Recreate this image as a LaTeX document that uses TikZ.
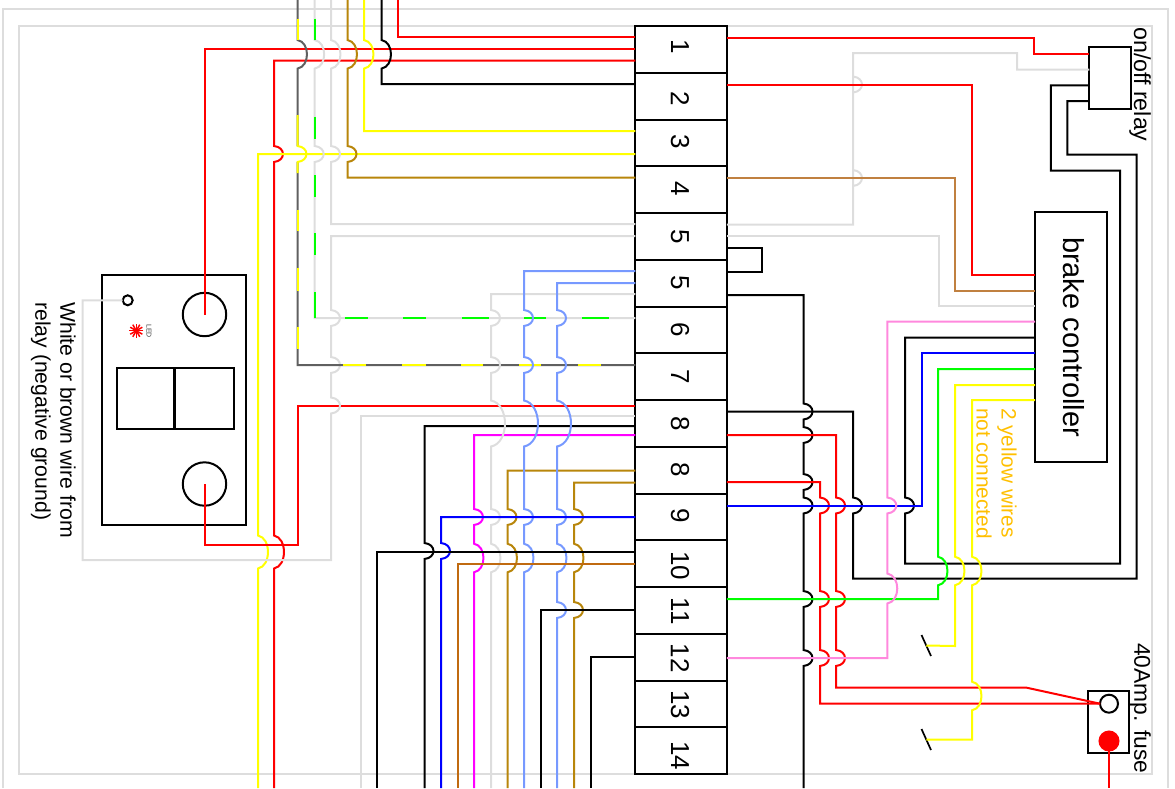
\documentclass[tikz,border=0pt]{standalone}
\usepackage{fontspec}
\setmainfont{Liberation Sans}
\usetikzlibrary{calc,positioning}
\definecolor{wred}{HTML}{FF0000}
\definecolor{wgreen}{HTML}{00FF00}
\definecolor{wblue}{HTML}{0000FF}
\definecolor{wyellow}{HTML}{FFFF00}
\definecolor{wmagenta}{HTML}{FF00FF}
\definecolor{wgrey}{HTML}{DDDDDD}
\definecolor{wdark}{HTML}{606060}
\definecolor{wgold}{HTML}{B8860B}
\definecolor{wlblue}{HTML}{7799FF}
\definecolor{wbrown}{HTML}{C06A10}
\definecolor{wtan}{HTML}{C08040}
\definecolor{wpink}{HTML}{FF88DD}
\definecolor{worange}{HTML}{FFBF00}
\tikzset{
  wire/.style={draw=#1,line width=2pt},
  box/.style={draw=black,line width=2pt,inner sep=0pt,outer sep=0pt},
  rowbox/.style={box,minimum width=91.5pt,minimum height=46.75pt},
  hole/.style={circle,box,minimum size=#1},
  sidelab/.style={rotate=-90,inner sep=0pt,font=\fontsize{23.2}{25}\selectfont,align=left}
}
% wire jumps over a crossing: x, centre y, half height, bulge
\newcommand{\hopw}[4]{-- (#1,#2-#3) .. controls (#1+#4*1.33,#2-#3*0.85) and (#1+#4*1.33,#2+#3*0.85) .. (#1,#2+#3)}
\newcommand{\hop}[2]{\hopw{#1}{#2}{8}{9}}
\newcommand{\dhop}[2]{\hopw{#1}{#2}{14.3}{9.5}}
\newcommand{\bighop}[2]{\hopw{#1}{#2}{23}{14}}
\begin{document}
\begin{tikzpicture}[x=1pt,y=-1pt]
  \useasboundingbox (0,0) rectangle (1175,788);
  % frames
  \draw[wire=wgrey] (3,788) -- (3,9.3) -- (1168,9.3) -- (1168,788);
  \draw[wire=wgrey] (19,25.7) rectangle (1151.7,774);
  % terminal block
  \foreach \n/\lab/\dy in {1/1/-3,2/2/3,3/3/-1,4/4/-1,5/5/0,6/5/0,7/6/0,8/7/0,9/8/0,10/8/0,11/9/-1,12/10/2,13/11/1,14/12/1,15/13/1,16/14/5} {%
    \pgfmathsetmacro{\ymid}{26+46.75*(\n-0.5)}
    \node[rowbox] (row\n) at (681,\ymid) {};
    \node[rotate=-90,inner sep=0pt,font=\fontsize{26}{26}\selectfont] (lab\n) at (680,\ymid+\dy) {\lab};
  }
  % switch panel
  \node[box,minimum width=143.5pt,minimum height=250pt] (panel) at (174.2,400) {};
  \node[hole=43.4pt] (swa) at (204.5,314.5) {};
  \node[hole=43.4pt] (swb) at (204.5,484) {};
  \node[box,minimum width=57.5pt,minimum height=61pt] (rocka) at (145.7,398.8) {};
  \node[box,minimum width=59pt,minimum height=61pt] (rockb) at (204,398.8) {};
  \node[hole=10pt] (ledhole) at (127.7,300.3) {};
  \coordinate (led) at (136.3,330.7);
  \foreach \a in {0,30,...,150} {%
    \draw[wred,line width=1.5pt] (led) +(\a:7) -- +(\a+180:7);
  }
  \node[rotate=-90,inner sep=0pt,text=black!75,font=\fontsize{7}{7}\selectfont] (ledlab) at (149,331) {LED};
  \node[sidelab,anchor=north west,font=\fontsize{21.2}{25}\selectfont] (panellab) at (76,302) {White or brown wire from\\relay (negative ground)};
  % other parts
  \node[box,minimum width=71.7pt,minimum height=250pt] (ctrl) at (1071,337) {\hspace{5pt}\rotatebox{-90}{\fontsize{29}{29}\selectfont brake controller}};
  \node[box,minimum width=41.2pt,minimum height=62.2pt] (relay) at (1110,77.6) {};
  \node[sidelab,anchor=north west] (relaylab) at (1151,27) {on/off relay};
  \node[box,minimum width=41pt,minimum height=62.3pt] (fuse) at (1108.8,722.2) {};
  \node[hole=18pt] (fusea) at (1109,703.7) {};
  \node[hole=19pt,fill=wred,draw=wred] (fuseb) at (1109,741) {};
  \node[sidelab,anchor=north west,font=\fontsize{22.8}{25}\selectfont] (fuselab) at (1151,643) {40Amp. fuse};
  \node[sidelab,anchor=north west,text=worange,font=\fontsize{20.8}{25}\selectfont] (notelab) at (1017,408) {2 yellow wires\\not connected};
  \coordinate (swc1) at (921.5,635);
  \coordinate (swc2) at (931,656);
  \coordinate (swd1) at (921.5,729);
  \coordinate (swd2) at (931,750);
  \draw[black,line width=1.7pt] (swc1) -- (swc2);
  \draw[black,line width=1.7pt] (swd1) -- (swd2);
  % left side, upper wires
  \draw[wire=wred] (398,0) -- (398,37) -- (row1.west |- 0,37);
  \draw[wire=wred] (swa.center) -- (204.5,48.5) -- (row1.west |- 0,48.5);
  \draw[wire=wred] (row1.west |- 0,60.5) -- (274,60.5) \hop{274}{154} \hopw{274}{552}{16.5}{10} -- (274,788);
  \draw[wire=wyellow] (row3.west |- 0,154) -- (258,154) \hopw{258}{552}{16.5}{10} -- (258,788);
  \draw[wire=wred] (swb.center) -- (204.5,544.5) -- (298,544.5) -- (298,405.5) -- (row9.west |- 0,405.5);
  \draw[wire=black] (381.5,0) \dhop{381.5}{54.3} -- (381.5,84) -- (row2.west |- 0,84);
  \draw[wire=wyellow] (364,0) \dhop{364}{54.3} -- (364,131) -- (row3.west |- 0,131);
  \draw[wire=wgold] (347.5,0) \dhop{347.5}{54.3} \hop{347.5}{154} -- (347.5,177.5) -- (row4.west |- 0,177.5);
  \draw[wire=wgrey] (331,0) \dhop{331}{54.3} \hop{331}{154} -- (331,224) -- (row5.west |- 0,224);
  \draw[wire=wgrey] (row5.west |- 0,236) -- (331,236) \hop{331}{318} \hop{331}{365} \hop{331}{405.5} -- (331,560) -- (82.5,560) -- (82.5,300.3) -- (ledhole.west);
  % grey with green stripe
  \draw[wire=wgrey] (314.7,0) \dhop{314.7}{54.3} \hop{314.7}{154} -- (314.7,318) -- (row7.west |- 0,318);
  \foreach \a/\b in {18.5/40,116.5/138.5,175/196.5,233/255,292/318} {%
    \draw[wire=wgreen] (314.7,\a) -- (314.7,\b);
  }
  \foreach \a/\b in {345/368,403/426,462/489,524/546,582/609} {%
    \draw[wire=wgreen] (\a,318) -- (\b,318);
  }
  % dark grey with yellow stripe
  \draw[wire=wdark] (297.5,0) \dhop{297.5}{54.3} -- (297.5,146) (297.5,162) -- (297.5,365) -- (row8.west |- 0,365);
  \draw[wire=wyellow] (297.5,115) \hop{297.5}{154} -- (297.5,173);
  \foreach \a/\b in {18.5/40,210/231,268/291,327/349} {%
    \draw[wire=wyellow] (297.5,\a) -- (297.5,\b);
  }
  \foreach \a/\b in {343/366,402/426,461/483,519/541,578/601} {%
    \draw[wire=wyellow] (\a,365) -- (\b,365);
  }
  % left side, lower wires
  \draw[wire=wgrey] (row9.west |- 0,416) -- (360.5,416) -- (360.5,788);
  \draw[wire=black] (row9.west |- 0,426) -- (424.5,426) \hop{424.5}{551} -- (424.5,788);
  \draw[wire=wmagenta] (row9.west |- 0,435) -- (474,435) \hop{474}{517} \dhop{474}{558} -- (474,788);
  \draw[wire=wgrey] (row7.west |- 0,294) -- (491,294) \hop{491}{318} \hop{491}{365} \bighop{491}{423.5} \hop{491}{517} \dhop{491}{558} -- (491,788);
  \draw[wire=wgold] (row10.west |- 0,470.5) -- (507.5,470.5) \hop{507.5}{517} \dhop{507.5}{558} -- (507.5,788);
  \draw[wire=wlblue] (row6.west |- 0,271) -- (524,271) \hop{524}{318} \hop{524}{365} \bighop{524}{423.5} \hop{524}{517} \dhop{524}{558} -- (524,788);
  \draw[wire=wlblue] (row6.west |- 0,283) -- (557,283) \hop{557}{318} \hop{557}{365} \bighop{557}{423.5} \hop{557}{517} \dhop{557}{558} \hop{557}{610} -- (557,788);
  \draw[wire=wgold] (row10.west |- 0,482.5) -- (574,482.5) \hop{574}{517} \dhop{574}{558} \hop{574}{610} -- (574,788);
  \draw[wire=wblue] (row11.west |- 0,517) -- (441,517) \hop{441}{551} -- (441,788);
  \draw[wire=black] (row12.west |- 0,552) -- (377,552) -- (377,788);
  \draw[wire=wbrown] (row12.west |- 0,564) -- (457.5,564) -- (457.5,788);
  \draw[wire=black] (row13.west |- 0,610) -- (541,610) -- (541,788);
  \draw[wire=black] (row14.west |- 0,657) -- (591,657) -- (591,788);
  % right side
  \draw[wire=wred] (row1.east |- 0,37.5) -- (1034,37.5) -- (1034,54) -- (relay.west |- 0,54);
  \draw[wire=wgrey] (row5.east |- 0,224.5) -- (853,224.5) \hop{853}{178} \hop{853}{84.5} -- (853,53) -- (1017,53) -- (1017,69.7) -- (relay.west |- 0,69.7);
  \draw[wire=wred] (row2.east |- 0,84.5) -- (972,84.5) -- (972,275) -- (ctrl.west |- 0,275);
  \draw[wire=wtan] (row4.east |- 0,178) -- (955,178) -- (955,291) -- (ctrl.west |- 0,291);
  \draw[wire=wgrey] (row5.east |- 0,236) -- (939,236) -- (939,306) -- (ctrl.west |- 0,306);
  \draw[wire=black] (row5.east |- 0,248) -- (761.7,248) -- (761.7,271.5) -- (row6.east |- 0,271.5);
  \draw[wire=black] (row6.east |- 0,295) -- (803.5,295) \hop{803.5}{411.5} \hop{803.5}{435} \hop{803.5}{482} \hop{803.5}{505.5} \hop{803.5}{599} \hop{803.5}{658} -- (803.5,788);
  \draw[wire=black] (row9.east |- 0,411.5) -- (853,411.5) \hop{853}{505.5} -- (853,578.5) -- (1136.7,578.5) -- (1136.7,154.7) -- (1067.4,154.7) -- (1067.4,101) -- (relay.west |- 0,101);
  \draw[wire=black] (ctrl.west |- 0,337.5) -- (905,337.5) \hop{905}{505.5} -- (905,563.5) -- (1120,563.5) -- (1120,170.7) -- (1050.8,170.7) -- (1050.8,85.4) -- (relay.west |- 0,85.4);
  \draw[wire=wred] (row9.east |- 0,435) -- (836,435) \hop{836}{505.5} \hop{836}{599} \hop{836}{658} -- (836,687.7) -- (1026.7,687.7) -- (fusea.west);
  \draw[wire=wred] (row10.east |- 0,482) -- (820,482) \hop{820}{505.5} \hop{820}{599} \hop{820}{658} -- (820,703.5) -- (fusea.west);
  \draw[wire=wblue] (ctrl.west |- 0,353) -- (921.7,353) -- (921.7,505.5) -- (row11.east |- 0,505.5);
  \draw[wire=wgreen] (ctrl.west |- 0,369) -- (938,369) \dhop{938}{571} -- (938,599) -- (row13.east |- 0,599);
  \draw[wire=wpink] (ctrl.west |- 0,321.5) -- (887.3,321.5) \hop{887.3}{505.5} \hopw{887.3}{588.5}{15}{10} -- (887.3,658) -- (row14.east |- 0,658);
  \draw[wire=wyellow] (ctrl.west |- 0,385) -- (955,385) \dhop{955}{571} -- (955,646) -- ($(swc1)!0.5!(swc2)$);
  \draw[wire=wyellow] (ctrl.west |- 0,400) -- (972,400) \dhop{972}{571} \dhop{972}{696} -- (972,739.5) -- ($(swd1)!0.5!(swd2)$);
  \draw[wire=wred] (fuseb.center) -- (1109,788);
\end{tikzpicture}
\end{document}
